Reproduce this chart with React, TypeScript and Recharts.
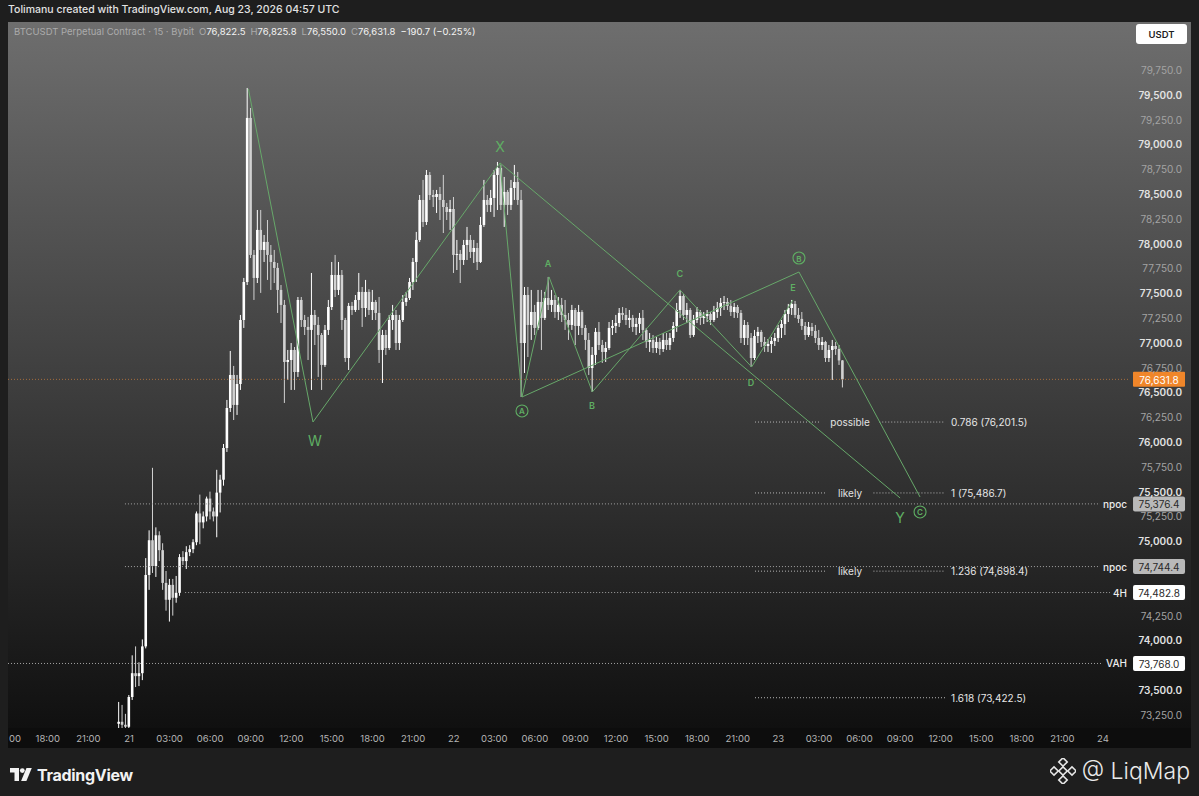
import React from 'react';
import { ComposedChart, Bar, XAxis, YAxis, ReferenceLine, ReferenceDot } from 'recharts';

// ---------- data ----------
// 15-minute candles; slot index counted from Aug 21 00:00 UTC
const firstSlot = -3;

const opens = [73160,73180,73150,73130,73430,73670,73640,73670,73940,74660,75010,74750,75060,74910,74580,74410,74560,74430,74480,74840,74800,74890,74920,74990,75280,75190,75250,75430,75300,75250,75490,75620,75940,76343,76676,76374,76585,77230,77613,79267,77886,77654,78138,77936,78017,77886,77815,77755,77533,77382,76807,76827,76928,76706,77432,77230,77160,77130,77281,77180,77079,76777,77130,77361,77684,77533,77684,77230,76847,77372,77331,77432,77513,77351,77513,77331,77412,77301,76928,77079,76948,77230,77281,76998,77230,77412,77452,77613,77815,78037,78440,78218,78692,78490,78470,78500,78440,78369,78319,78349,77886,77896,77835,77986,78037,77916,77956,77815,78188,78440,78390,78460,78692,78763,78390,78521,78390,78561,78621,78440,76998,77482,77180,77311,77150,77412,77251,77452,77382,77432,77311,77382,77281,77230,77180,77331,77170,77311,77150,77029,76746,76878,77110,76978,76908,76948,77150,77170,77200,77301,77281,77230,77251,77160,77190,77251,77130,77009,77029,76948,77009,76938,77029,76978,77049,77170,77331,77472,77281,77331,77079,77230,77311,77251,77271,77291,77230,77311,77351,77402,77412,77372,77311,77361,77301,77049,77180,77049,76847,77069,77110,77009,76968,76988,77019,77049,77150,77190,77291,77351,77392,77281,77241,77170,77079,77160,77120,77049,76978,77009,76847,76928,76968,76938,76822.5];
const highs = [73380,73350,73260,73450,73850,73940,73780,74010,74830,75110,75740,75140,75100,74980,74700,74620,74620,74650,74870,74900,74950,74960,75020,75300,75470,75300,75450,75500,75340,75720,75670,75980,76424,76918,76767,76676,77281,77654,79569,79367,77936,78339,78339,78087,78238,77986,77936,77805,77583,77432,76928,76998,76958,77462,77462,77281,77261,77704,77331,77261,77099,77180,77432,77815,77886,77815,77734,77251,77402,77412,77482,77704,77563,77634,77540,77533,77432,77462,77130,77130,77281,77382,77331,77281,77482,77513,77654,77855,78118,78490,78642,78742,78722,78541,78541,78571,78692,78410,78440,78470,78037,77936,78037,78168,78087,78037,78007,78269,78642,78490,78541,78742,78823,78793,78672,78541,78642,78793,78722,78541,77563,77563,77533,77382,77533,77533,77513,77664,77533,77482,77462,77452,77432,77301,77382,77351,77382,77330,77180,77099,76958,77150,77210,77029,77009,77210,77230,77281,77351,77361,77351,77331,77281,77251,77301,77331,77150,77099,77079,77059,77049,77099,77099,77099,77210,77402,77533,77490,77402,77351,77281,77361,77331,77311,77331,77311,77372,77412,77452,77472,77452,77432,77402,77382,77331,77230,77210,77099,77130,77160,77130,77059,77039,77059,77099,77180,77230,77331,77392,77432,77422,77351,77311,77210,77210,77200,77180,77130,77059,77020,76978,77029,77009,76978,76825.8];
const lows = [73100,73110,73090,73110,73400,73530,73540,73600,73920,74510,74680,74640,74800,74510,74300,74190,74250,74380,74450,74760,74720,74850,74880,74960,74970,75130,75200,75220,75200,75040,75290,75560,75900,76303,76222,76273,76525,77150,77583,77855,77432,77603,77503,77815,77634,77533,77603,77301,77200,76394,76626,76525,76525,76656,77160,77079,76827,76525,76978,76656,76525,76757,77079,77331,77462,77482,77130,76807,76726,77281,77311,77331,77160,77261,77281,77230,77230,76797,76595,76878,76928,77130,76928,76928,77210,77372,77432,77533,77613,78017,78168,78188,78440,78369,78309,78238,78107,78238,78138,77704,77734,77603,77785,77835,77855,77805,77734,77805,78168,78319,78319,78269,78339,78339,78168,78289,78339,78440,78390,76454,76696,76857,77029,77079,77130,76928,77230,77331,77311,77251,77230,77210,77130,77029,77130,76978,77079,77079,76928,76676,76505,76777,76928,76797,76807,76928,77079,77099,77160,77230,77180,77150,77110,77079,77099,77029,76948,76908,76898,76898,76878,76908,76928,76928,77009,77110,77251,77230,77200,77049,77060,77200,77180,77190,77210,77180,77210,77251,77271,77331,77331,77271,77251,77251,76998,76978,76978,76757,76827,76998,76958,76908,76908,76898,76968,77009,77049,77079,77210,77281,77251,77200,77130,77029,77059,77069,76998,76928,76928,76807,76807,76626,76878,76777,76550];
const closes = [73180,73150,73130,73430,73670,73640,73670,73940,74660,75010,74750,75060,74910,74580,74410,74560,74430,74480,74840,74800,74890,74920,74990,75280,75190,75250,75430,75300,75250,75490,75620,75940,76343,76676,76374,76585,77230,77613,79267,77886,77654,78138,77936,78017,77886,77815,77755,77533,77382,76807,76827,76928,76706,77432,77230,77160,77130,77281,77180,77079,76777,77130,77361,77684,77533,77684,77230,76847,77372,77331,77432,77513,77351,77513,77331,77412,77301,76928,77079,76948,77230,77281,76998,77230,77412,77452,77613,77815,78037,78440,78218,78692,78490,78470,78500,78440,78369,78319,78349,77886,77896,77835,77986,78037,77916,77956,77815,78188,78440,78390,78460,78692,78763,78390,78521,78390,78561,78621,78440,76998,77482,77180,77311,77150,77412,77251,77452,77382,77432,77311,77382,77281,77230,77180,77331,77170,77311,77150,77029,76746,76878,77110,76978,76908,76948,77150,77170,77200,77301,77281,77230,77251,77160,77190,77251,77130,77009,77029,76948,77009,76938,77029,76978,77049,77170,77331,77472,77281,77331,77079,77230,77311,77251,77271,77291,77230,77311,77351,77402,77412,77372,77311,77361,77301,77049,77180,77049,76847,77069,77110,77009,76968,76988,77019,77049,77150,77190,77291,77351,77392,77281,77241,77170,77079,77160,77120,77049,76978,77009,76847,76928,76968,76938,76822.5,76631.8];

const priceTicks = [73250,73500,73750,74000,74250,74500,74750,75000,75250,75500,75750,76000,76250,76500,76750,77000,77250,77500,77750,78000,78250,78500,78750,79000,79250,79500,79750];
const timeTicks = [-36,-24,-12,0,12,24,36,48,60,72,84,96,108,120,132,144,156,168,180,192,204,216,228,240,252,264,276,288];
const timeTickLabels = ['00','18:00','21:00','21','03:00','06:00','09:00','12:00','15:00','18:00','21:00','22','03:00','06:00','09:00','12:00','15:00','18:00','21:00','23','03:00','06:00','09:00','12:00','15:00','18:00','21:00','24'];

// horizontal levels (npoc / 4H / VAH)
const levelNames = ['npoc', 'npoc', '4H', 'VAH'];
const levelPrices = [75376.4, 74744.4, 74482.8, 73768.0];
const levelStartSlots = [-1.2, -1.2, 16.6, -35.78];

// fib extension levels
const fibRatios = ['0.786', '1', '1.236', '1.618'];
const fibPrices = [76201.5, 75486.7, 74698.4, 73422.5];
const fibTags = ['possible', 'likely', 'likely', ''];
const fibSpan = [185.1, 241.3];

// wave pivots [slot, price]
const pTop = [35.3, 79560];
const pW = [54.4, 76202];
const pX = [109.7, 78813];
const pA0 = [116.2, 76454];
const pA = [124.2, 77664];
const pB = [137, 76505];
const pC = [162.9, 77533];
const pD = [184.1, 76757];
const pE = [196.3, 77432];
const pB0 = [198.1, 77714];
const pY = [228, 75436];
const pC0 = [233.9, 75446];
const waveLegs = [
  [pTop, pW], [pW, pX], [pX, pA0], [pX, pY], [pA0, pA], [pA, pB], [pB, pC],
  [pC, pD], [pD, pE], [pA0, pB0], [pB0, pC0],
];
// wave labels: text, slot, price, kind
const waveLabelText = ['W', 'X', 'A', 'A', 'B', 'C', 'D', 'E', 'B', 'Y', 'C'];
const waveLabelSlot = [55, 109.7, 116.2, 123.9, 136.9, 162.9, 183.9, 196.3, 198.1, 228, 233.9];
const waveLabelPrice = [76011, 78974, 76313, 77795, 76364, 77694, 76605, 77553, 77855, 75235, 75295];
const waveLabelKind = ['big', 'big', 'circle', 'small', 'small', 'small', 'small', 'small', 'circle', 'big', 'circle'];

// ---------- derived rows ----------
const rows = closes.map((c, i) => ({
  t: firstSlot + i,
  o: opens[i],
  h: highs[i],
  l: lows[i],
  c,
  range: [lows[i], highs[i]],
}));
const lastClose = closes[closes.length - 1];
const boxedPrices = [...levelPrices, lastClose];

// ---------- styling ----------
const FONT = 'Inter, "Noto Sans", sans-serif';
const GREEN = '#67a86a';
const GREEN_TXT = '#5fae63';
const xDomain = [-35.78, 295.98];
const yDomain = [73117.4, 80233.9];

const fmt = (v: number) =>
  v.toLocaleString('en-US', { minimumFractionDigits: 1, maximumFractionDigits: 1 });

const Candle = (props: any) => {
  const { x, y, width, height, payload } = props;
  if (!payload || !isFinite(y) || !isFinite(height)) return null;
  const { o, h, l, c } = payload;
  const cx = x + width / 2;
  const k = h - l > 0 ? height / (h - l) : 0;
  const yTop = y + (h - Math.max(o, c)) * k;
  const yBot = y + (h - Math.min(o, c)) * k;
  const up = c >= o;
  const col = up ? '#ffffff' : '#d2d2d2';
  return (
    <g>
      <line x1={cx} x2={cx} y1={y} y2={y + height} stroke={col} strokeWidth={1} />
      <rect x={cx - 1.3} y={yTop} width={2.6} height={Math.max(1, yBot - yTop)} fill={col} />
    </g>
  );
};

const PriceTick = (props: any) => {
  const { y, payload } = props;
  const v = payload.value;
  // labels covered by a price box on the axis are not shown
  if (boxedPrices.some((b) => Math.abs(b - v) < 100)) return null;
  const strong = v % 500 === 0;
  return (
    <text x={1174} y={y} textAnchor="end" dominantBaseline="central" fontFamily={FONT}
      fontSize={10} fontWeight={strong ? 600 : 400} fill={strong ? '#e2e2e2' : '#a3a3a3'}>
      {fmt(v)}
    </text>
  );
};

const TimeTick = (props: any) => {
  const { x, payload } = props;
  const idx = timeTicks.indexOf(payload.value);
  const atEdge = x < 12;
  return (
    <text x={atEdge ? 1 : x} y={716} textAnchor={atEdge ? 'start' : 'middle'} dominantBaseline="central"
      fontFamily={FONT} fontSize={9.5} fill="#b5b5b5">
      {timeTickLabels[idx]}
    </text>
  );
};

const LevelShape = (props: any) => {
  const { x1, y1, x2, name, value, boxFill, gap } = props;
  return (
    <g>
      <line x1={x1} x2={x2 - gap} y1={y1} y2={y1} stroke="#a2a2a2" strokeWidth={1} strokeDasharray="1 2" />
      <text x={x2} y={y1} textAnchor="end" dominantBaseline="central" fontFamily={FONT} fontSize={10}
        fontWeight={500} fill="#ececec">{name}</text>
      <rect x={x2 + 6} y={y1 - 7.5} width={52} height={15} rx={2} fill={boxFill} />
      <text x={x2 + 32} y={y1 + 0.5} textAnchor="middle" dominantBaseline="central" fontFamily={FONT}
        fontSize={10} fill="#2a2a2a">{value}</text>
    </g>
  );
};

const CurrentShape = (props: any) => {
  const { x1, y1, x2, value } = props;
  return (
    <g>
      <line x1={x1} x2={x2} y1={y1} y2={y1} stroke="#c77d3d" strokeOpacity={0.75} strokeWidth={1} strokeDasharray="1 2" />
      <rect x={x2 + 3} y={y1 - 7.5} width={52} height={15} rx={1} fill="#f0862a" />
      <text x={x2 + 29} y={y1 + 0.5} textAnchor="middle" dominantBaseline="central" fontFamily={FONT}
        fontSize={10} fill="#ffffff">{value}</text>
    </g>
  );
};

const FibShape = (props: any) => {
  const { x1, y1, x2, tag, text } = props;
  const mid = (x1 + x2) / 2;
  const half = tag ? tag.length * 2.9 + 6 : 0;
  const dash = { stroke: '#b4b4b4', strokeWidth: 1, strokeDasharray: '1 2' };
  return (
    <g>
      {tag ? (
        <>
          <line x1={x1} x2={mid - half} y1={y1} y2={y1} {...dash} />
          <line x1={mid + half} x2={x2} y1={y1} y2={y1} {...dash} />
          <text x={mid} y={y1} textAnchor="middle" dominantBaseline="central" fontFamily={FONT}
            fontSize={10} fill="#e2e2e2">{tag}</text>
        </>
      ) : (
        <line x1={x1} x2={x2} y1={y1} y2={y1} {...dash} />
      )}
      <text x={x2 + 6} y={y1} textAnchor="start" dominantBaseline="central" fontFamily={FONT}
        fontSize={10} fill="#e6e6e6">{text}</text>
    </g>
  );
};

const WaveLabel = (props: any) => {
  const { cx, cy, text, kind } = props;
  if (kind === 'circle') {
    return (
      <g>
        <circle cx={cx} cy={cy} r={6} fill="none" stroke={GREEN_TXT} strokeWidth={1.1} />
        <text x={cx} y={cy + 0.5} textAnchor="middle" dominantBaseline="central" fontFamily={FONT}
          fontSize={8} fontWeight={600} fill={GREEN_TXT}>{text}</text>
      </g>
    );
  }
  return (
    <text x={cx} y={cy} textAnchor="middle" dominantBaseline="central" fontFamily={FONT}
      fontSize={kind === 'big' ? 14 : 9} fontWeight={kind === 'big' ? 400 : 600} fill={GREEN_TXT}>{text}</text>
  );
};

const TvLogo = () => (
  <svg width="22" height="14" viewBox="0 0 22 14" style={{ display: 'block' }}>
    <path d="M0 0h9v13h-4.5v-8.5h-4.5z" fill="#f2f2f2" />
    <circle cx="12.3" cy="2.6" r="2.4" fill="#f2f2f2" />
    <path d="M16.5 0h5.3l-5.4 13h-5.3z" fill="#f2f2f2" />
  </svg>
);

const BinIcon = () => (
  <svg width="26" height="26" viewBox="0 0 26 26" style={{ display: 'block' }}>
    {[[13, 4], [4, 13], [22, 13], [13, 22], [13, 13]].map(([x, y], i) => (
      <rect key={i} x={x - 3} y={y - 3} width={6} height={6} fill="none" stroke="#e6e6e6" strokeWidth={1.6}
        transform={`rotate(45 ${x} ${y})`} />
    ))}
  </svg>
);

export default function App() {
  return (
    <div style={{ position: 'fixed', left: 0, top: 0, width: 1199, height: 796, background: '#1e1e1e', fontFamily: FONT, overflow: 'hidden' }}>
      {/* header */}
      <div style={{ position: 'absolute', left: 8, top: 3, fontSize: 10.5, fontWeight: 500, color: '#e2e2e2', whiteSpace: 'nowrap' }}>
        Tolimanu created with TradingView.com, Aug 23, 2026 04:57 UTC
      </div>
      {/* chart panel background */}
      <div style={{ position: 'absolute', left: 8, top: 22, width: 1183, height: 706, background: 'linear-gradient(180deg, #6e6e6e 0%, #3f3f3f 50%, #101010 100%)' }} />
      <div style={{ position: 'absolute', left: 8, top: 728, width: 1183, height: 20, background: '#0d0d0d' }} />
      {/* legend */}
      <div style={{ position: 'absolute', left: 14, top: 26, fontSize: 9.5, whiteSpace: 'nowrap', color: '#ababab' }}>
        <span>BTCUSDT Perpetual Contract · 15 · Bybit</span>
        <span style={{ marginLeft: 5 }}>O</span><span style={{ color: '#f4f4f4' }}>76,822.5</span>
        <span style={{ marginLeft: 5 }}>H</span><span style={{ color: '#f4f4f4' }}>76,825.8</span>
        <span style={{ marginLeft: 5 }}>L</span><span style={{ color: '#f4f4f4' }}>76,550.0</span>
        <span style={{ marginLeft: 5 }}>C</span><span style={{ color: '#f4f4f4' }}>76,631.8</span>
        <span style={{ marginLeft: 5, color: '#f4f4f4' }}>−190.7 (−0.25%)</span>
      </div>
      {/* USDT box */}
      <div style={{ position: 'absolute', left: 1136, top: 24, width: 51, height: 20, background: '#ffffff', borderRadius: 3, color: '#1e1e1e', fontSize: 9.5, fontWeight: 600, display: 'flex', alignItems: 'center', justifyContent: 'center' }}>
        USDT
      </div>
      {/* chart */}
      <div style={{ position: 'absolute', left: 8, top: 22 }}>
        <ComposedChart width={1183} height={726} data={rows} margin={{ top: 0, right: 0, bottom: 0, left: 0 }}>
          <XAxis dataKey="t" type="number" domain={xDomain} allowDataOverflow ticks={timeTicks} interval={0}
            tick={<TimeTick />} axisLine={false} tickLine={false} height={20} />
          <YAxis orientation="right" type="number" domain={yDomain} allowDataOverflow ticks={priceTicks}
            interval={0} tick={<PriceTick />} axisLine={false} tickLine={false} width={61} />
          {levelPrices.map((p, i) => (
            <ReferenceLine key={'lv' + i} ifOverflow="visible"
              segment={[{ x: levelStartSlots[i], y: p }, { x: 295.1, y: p }]}
              shape={(sp: any) => (
                <LevelShape {...sp} name={levelNames[i]} value={fmt(p)}
                  boxFill={levelNames[i] === 'npoc' ? '#b9b9b9' : '#ffffff'}
                  gap={levelNames[i] === 'npoc' ? 27 : levelNames[i] === 'VAH' ? 25 : 17} />
              )} />
          ))}
          <ReferenceLine ifOverflow="visible"
            segment={[{ x: xDomain[0], y: lastClose }, { x: xDomain[1], y: lastClose }]}
            shape={(sp: any) => <CurrentShape {...sp} value={fmt(lastClose)} />} />
          {fibPrices.map((p, i) => (
            <ReferenceLine key={'fib' + i} ifOverflow="visible"
              segment={[{ x: fibSpan[0], y: p }, { x: fibSpan[1], y: p }]}
              shape={(sp: any) => <FibShape {...sp} tag={fibTags[i]} text={`${fibRatios[i]} (${fmt(p)})`} />} />
          ))}
          <Bar dataKey="range" barSize={3} shape={<Candle />} isAnimationActive={false} />
          {waveLegs.map((leg, i) => (
            <ReferenceLine key={'wl' + i} ifOverflow="visible"
              segment={[{ x: leg[0][0], y: leg[0][1] }, { x: leg[1][0], y: leg[1][1] }]}
              stroke={GREEN} strokeWidth={1} />
          ))}
          {waveLabelText.map((txt, i) => (
            <ReferenceDot key={'wd' + i} x={waveLabelSlot[i]} y={waveLabelPrice[i]} r={0} ifOverflow="visible"
              shape={(dp: any) => <WaveLabel cx={dp.cx} cy={dp.cy} text={txt} kind={waveLabelKind[i]} />} />
          ))}
        </ComposedChart>
      </div>
      {/* footer */}
      <div style={{ position: 'absolute', left: 10, top: 765, display: 'flex', alignItems: 'center', gap: 5 }}>
        <TvLogo />
        <span style={{ color: '#f2f2f2', fontSize: 16, fontWeight: 700, letterSpacing: -0.3 }}>TradingView</span>
      </div>
      <div style={{ position: 'absolute', right: 9, top: 757, display: 'flex', alignItems: 'center', gap: 6 }}>
        <BinIcon />
        <span style={{ color: '#eaeaea', fontSize: 23, fontWeight: 300 }}>@ LiqMap</span>
      </div>
    </div>
  );
}
